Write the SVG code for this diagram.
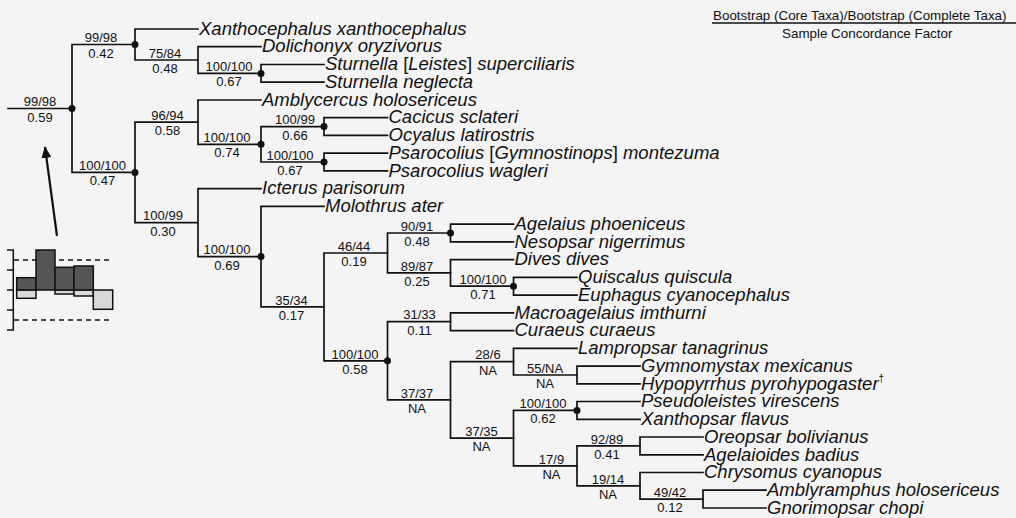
<svg xmlns="http://www.w3.org/2000/svg" width="1016" height="518" viewBox="0 0 1016 518">
<style>
.br{fill:none;stroke:#111;stroke-width:1.7;stroke-linecap:square}
.tx{font-family:"Liberation Sans",Arial,sans-serif;font-style:italic;font-size:18.5px;fill:#111}
.up{font-style:normal}
.lb{font-family:"Liberation Sans",Arial,sans-serif;font-size:13px;fill:#111;text-anchor:middle}
.hd{font-family:"Liberation Sans",Arial,sans-serif;font-size:13.4px;fill:#111}
.dot{fill:#111}
.dk{fill:#555;stroke:#111;stroke-width:1.5}
.lt{fill:#d9d9d9;stroke:#111;stroke-width:1.5}
.ax{fill:none;stroke:#111;stroke-width:1.5}
.ds{fill:none;stroke:#111;stroke-width:1.3;stroke-dasharray:5 4}
</style>
<defs>
<marker id="ah" viewBox="0 0 12 10" refX="11" refY="5" markerWidth="12" markerHeight="10" markerUnits="userSpaceOnUse" orient="auto">
<path d="M0 0 L12 5 L0 10 Z" fill="#111"/>
</marker>
</defs>
<rect width="1016" height="518" fill="#f4f4f4"/>

<g id="legend">
<text class="hd" x="713" y="19.5">Bootstrap (Core Taxa)/Bootstrap (Complete Taxa)</text>
<line x1="712" y1="23" x2="1016" y2="23" stroke="#111" stroke-width="1.5"/>
<text class="hd" x="782" y="37.5">Sample Concordance Factor</text>
</g>

<g id="connectors">
<path class="br" d="M8 108.5 H72"/>
<path class="br" d="M135 44.5 H72 V172.4 H135"/>
<path class="br" d="M198 29 H135 V60 H198"/>
<path class="br" d="M261 46.7 H198 V73.4 H261"/>
<path class="br" d="M324 64.5 H261 V82.2 H324"/>
<path class="br" d="M198 122.1 H135 V222.7 H198"/>
<path class="br" d="M261 100 H198 V144.3 H261"/>
<path class="br" d="M324 126.6 H261 V162 H324"/>
<path class="br" d="M387.5 117.7 H324 V135.4 H387.5"/>
<path class="br" d="M387.5 153.2 H324 V170.9 H387.5"/>
<path class="br" d="M261 188.7 H198 V256.6 H261"/>
<path class="br" d="M324 206.4 H261 V306.9 H324"/>
<path class="br" d="M387.5 253 H324 V360.8 H387.5"/>
<path class="br" d="M450.5 233 H387.5 V272.9 H450.5"/>
<path class="br" d="M513.5 224.1 H450.5 V241.9 H513.5"/>
<path class="br" d="M513.5 259.6 H450.5 V286.2 H513.5"/>
<path class="br" d="M577 277.4 H513.5 V295.1 H577"/>
<path class="br" d="M450.5 321.7 H387.5 V399.9 H450.5"/>
<path class="br" d="M513.5 312.8 H450.5 V330.6 H513.5"/>
<path class="br" d="M513.5 361.6 H450.5 V438.1 H513.5"/>
<path class="br" d="M577 348.3 H513.5 V375 H577"/>
<path class="br" d="M640 366.1 H577 V383.8 H640"/>
<path class="br" d="M577 410.4 H513.5 V465.9 H577"/>
<path class="br" d="M640 401.5 H577 V419.3 H640"/>
<path class="br" d="M640 445.9 H577 V485.8 H640"/>
<path class="br" d="M703 437 H640 V454.8 H703"/>
<path class="br" d="M703 472.5 H640 V499.1 H703"/>
<path class="br" d="M766 490.2 H703 V508 H766"/>
</g>

<g id="node-root"><circle class="dot" cx="72" cy="108.5" r="3.5"/><text class="lb" x="40" y="106.2">99/98</text><text class="lb" x="40" y="121.5">0.59</text></g>
<g id="node-C"><circle class="dot" cx="135" cy="44.5" r="3.5"/><text class="lb" x="101" y="42.2">99/98</text><text class="lb" x="101" y="57.5">0.42</text></g>
<g id="node-B"><text class="lb" x="165" y="57.7">75/84</text><text class="lb" x="165" y="73">0.48</text></g>
<g id="node-A"><circle class="dot" cx="261" cy="73.4" r="3.5"/><text class="lb" x="229" y="71.1">100/100</text><text class="lb" x="229" y="86.4">0.67</text></g>
<g id="node-Z"><circle class="dot" cx="135" cy="172.4" r="3.5"/><text class="lb" x="102.5" y="170.1">100/100</text><text class="lb" x="102.5" y="185.4">0.47</text></g>
<g id="node-G"><text class="lb" x="167.5" y="119.8">96/94</text><text class="lb" x="167.5" y="135.1">0.58</text></g>
<g id="node-F"><circle class="dot" cx="261" cy="144.3" r="3.5"/><text class="lb" x="227" y="142">100/100</text><text class="lb" x="227" y="157.3">0.74</text></g>
<g id="node-D"><circle class="dot" cx="324" cy="126.6" r="3.5"/><text class="lb" x="295" y="124.3">100/99</text><text class="lb" x="295" y="139.6">0.66</text></g>
<g id="node-E"><circle class="dot" cx="324" cy="162" r="3.5"/><text class="lb" x="290" y="159.7">100/100</text><text class="lb" x="290" y="175">0.67</text></g>
<g id="node-Y"><text class="lb" x="163" y="220.4">100/99</text><text class="lb" x="163" y="235.7">0.30</text></g>
<g id="node-X"><circle class="dot" cx="261" cy="256.6" r="3.5"/><text class="lb" x="227" y="254.3">100/100</text><text class="lb" x="227" y="269.6">0.69</text></g>
<g id="node-W"><text class="lb" x="291.5" y="304.6">35/34</text><text class="lb" x="291.5" y="319.9">0.17</text></g>
<g id="node-K"><text class="lb" x="354" y="250.7">46/44</text><text class="lb" x="354" y="266">0.19</text></g>
<g id="node-V"><circle class="dot" cx="387.5" cy="360.8" r="3.5"/><text class="lb" x="355" y="358.5">100/100</text><text class="lb" x="355" y="373.8">0.58</text></g>
<g id="node-H"><circle class="dot" cx="450.5" cy="233" r="3.5"/><text class="lb" x="417" y="230.7">90/91</text><text class="lb" x="417" y="246">0.48</text></g>
<g id="node-J"><text class="lb" x="417" y="270.6">89/87</text><text class="lb" x="417" y="285.9">0.25</text></g>
<g id="node-I"><circle class="dot" cx="513.5" cy="286.2" r="3.5"/><text class="lb" x="483" y="283.9">100/100</text><text class="lb" x="483" y="299.2">0.71</text></g>
<g id="node-L"><text class="lb" x="419.5" y="319.4">31/33</text><text class="lb" x="419.5" y="334.7">0.11</text></g>
<g id="node-U"><text class="lb" x="417" y="397.6">37/37</text><text class="lb" x="417" y="412.9">NA</text></g>
<g id="node-N"><text class="lb" x="488" y="359.3">28/6</text><text class="lb" x="488" y="374.6">NA</text></g>
<g id="node-M"><text class="lb" x="545" y="372.7">55/NA</text><text class="lb" x="545" y="388">NA</text></g>
<g id="node-T"><text class="lb" x="481.5" y="435.8">37/35</text><text class="lb" x="481.5" y="451.1">NA</text></g>
<g id="node-O"><circle class="dot" cx="577" cy="410.4" r="3.5"/><text class="lb" x="543" y="408.1">100/100</text><text class="lb" x="543" y="423.4">0.62</text></g>
<g id="node-S"><text class="lb" x="551.5" y="463.6">17/9</text><text class="lb" x="551.5" y="478.9">NA</text></g>
<g id="node-P"><text class="lb" x="607" y="443.6">92/89</text><text class="lb" x="607" y="458.9">0.41</text></g>
<g id="node-R"><text class="lb" x="608" y="483.5">19/14</text><text class="lb" x="608" y="498.8">NA</text></g>
<g id="node-Q"><text class="lb" x="670" y="496.8">49/42</text><text class="lb" x="670" y="512.1">0.12</text></g>

<g id="taxon-1"><text class="tx" x="199" y="34.7">Xanthocephalus xanthocephalus</text></g>
<g id="taxon-2"><text class="tx" x="262" y="52.4">Dolichonyx oryzivorus</text></g>
<g id="taxon-3"><text class="tx" x="325" y="70.2">Sturnella <tspan class="up">[</tspan>Leistes<tspan class="up">]</tspan> superciliaris</text></g>
<g id="taxon-4"><text class="tx" x="325" y="87.9">Sturnella neglecta</text></g>
<g id="taxon-5"><text class="tx" x="262" y="105.7">Amblycercus holosericeus</text></g>
<g id="taxon-6"><text class="tx" x="388.5" y="123.4">Cacicus sclateri</text></g>
<g id="taxon-7"><text class="tx" x="388.5" y="141.1">Ocyalus latirostris</text></g>
<g id="taxon-8"><text class="tx" x="388.5" y="158.9">Psarocolius <tspan class="up">[</tspan>Gymnostinops<tspan class="up">]</tspan> montezuma</text></g>
<g id="taxon-9"><text class="tx" x="388.5" y="176.6">Psarocolius wagleri</text></g>
<g id="taxon-10"><text class="tx" x="262" y="194.4">Icterus parisorum</text></g>
<g id="taxon-11"><text class="tx" x="325" y="212.1">Molothrus ater</text></g>
<g id="taxon-12"><text class="tx" x="514.5" y="229.8">Agelaius phoeniceus</text></g>
<g id="taxon-13"><text class="tx" x="514.5" y="247.6">Nesopsar nigerrimus</text></g>
<g id="taxon-14"><text class="tx" x="514.5" y="265.3">Dives dives</text></g>
<g id="taxon-15"><text class="tx" x="578" y="283.1">Quiscalus quiscula</text></g>
<g id="taxon-16"><text class="tx" x="578" y="300.8">Euphagus cyanocephalus</text></g>
<g id="taxon-17"><text class="tx" x="514.5" y="318.5">Macroagelaius imthurni</text></g>
<g id="taxon-18"><text class="tx" x="514.5" y="336.3">Curaeus curaeus</text></g>
<g id="taxon-19"><text class="tx" x="578" y="354">Lampropsar tanagrinus</text></g>
<g id="taxon-20"><text class="tx" x="641" y="371.8">Gymnomystax mexicanus</text></g>
<g id="taxon-21"><text class="tx" x="641" y="389.5">Hypopyrrhus pyrohypogaster<tspan class="up" font-size="10" dy="-8">†</tspan></text></g>
<g id="taxon-22"><text class="tx" x="641" y="407.2">Pseudoleistes virescens</text></g>
<g id="taxon-23"><text class="tx" x="641" y="425">Xanthopsar flavus</text></g>
<g id="taxon-24"><text class="tx" x="704" y="442.7">Oreopsar bolivianus</text></g>
<g id="taxon-25"><text class="tx" x="704" y="460.5">Agelaioides badius</text></g>
<g id="taxon-26"><text class="tx" x="704" y="478.2">Chrysomus cyanopus</text></g>
<g id="taxon-27"><text class="tx" x="767" y="495.9">Amblyramphus holosericeus</text></g>
<g id="taxon-28"><text class="tx" x="767" y="513.7">Gnorimopsar chopi</text></g>

<g id="inset">
<line x1="57" y1="236" x2="45" y2="147" stroke="#111" stroke-width="2.2" marker-end="url(#ah)"/>
<path class="ax" d="M7 250 H13.3 V330 H7 M7 270 H13.3 M7 290 H13.3 M7 310 H13.3"/>
<line class="ds" x1="14" y1="260" x2="113" y2="260"/>
<line class="ds" x1="14" y1="320" x2="113" y2="320"/>
<rect class="lt" x="16.7" y="290" width="19.3" height="8.3"/>
<rect class="dk" x="16.7" y="277.7" width="19.3" height="12.3"/>
<rect class="dk" x="36" y="250" width="19" height="40"/>
<rect class="lt" x="55" y="290" width="19" height="4"/>
<rect class="dk" x="55" y="267.3" width="19" height="22.7"/>
<rect class="lt" x="74" y="290" width="19.3" height="6"/>
<rect class="dk" x="74" y="266" width="19.3" height="24"/>
<rect class="lt" x="93.3" y="290" width="19.4" height="19.3"/>
</g>
</svg>
